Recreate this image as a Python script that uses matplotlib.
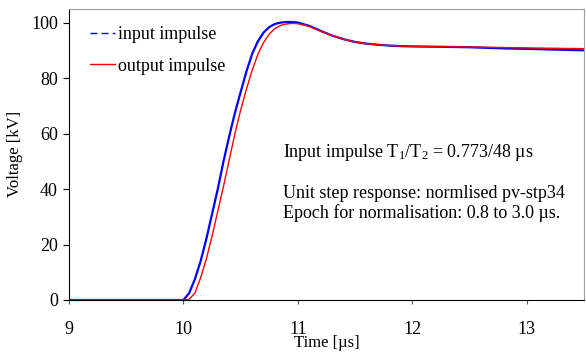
import matplotlib
matplotlib.use("Agg")
import matplotlib.pyplot as plt
from matplotlib.lines import Line2D

plt.rcParams['font.family'] = ['Liberation Serif', 'DejaVu Serif']
plt.rcParams['mathtext.fontset'] = 'custom'
plt.rcParams['mathtext.rm'] = 'Liberation Serif'
plt.rcParams['mathtext.it'] = 'Liberation Serif:italic'

# time axis in microseconds
t = [9.0, 10.0, 10.05, 10.1, 10.15, 10.2, 10.25, 10.3, 10.35, 10.4, 10.45,
     10.5, 10.55, 10.6, 10.65, 10.7, 10.75, 10.8, 10.85, 10.9, 10.95, 11.0,
     11.1, 11.2, 11.3, 11.4, 11.5, 11.6, 11.7, 11.8, 11.9, 12.0, 12.2, 12.5,
     12.8, 13.1, 13.5]

# voltages in kV
v_in = [0, 0, 2.5, 7.5, 14, 22, 31, 40, 50, 59, 67.5,
        75, 82.3, 88.7, 93.2, 96.4, 98.4, 99.5, 100, 100.2, 100.2, 100,
        98.8, 97, 95.3, 94, 93, 92.4, 92, 91.7, 91.5, 91.4, 91.3, 91.1,
        90.7, 90.4, 90.0]
v_out = [0, 0, 0.3, 2.5, 8, 14.8, 23, 32, 41, 50.5, 60,
         68.5, 76, 82.8, 88.5, 92.8, 95.9, 97.9, 99, 99.5, 99.7, 99.6,
         98.6, 96.9, 95.3, 94, 93, 92.4, 92, 91.7, 91.5, 91.4, 91.3, 91.2,
         91.0, 90.8, 90.6]

fig = plt.figure(figsize=(5.86, 3.52), dpi=100)
ax = fig.add_axes((69 / 586, 52 / 352, 515 / 586, 291.3 / 352))

ax.plot(t, v_in, color='blue', lw=1.6)
ax.plot(t, v_out, color='red', lw=1.0)

ax.set_xlim(9, 13.5)
ax.set_ylim(0, 105)
ax.set_xticks([9, 10, 11, 12, 13])
ax.set_yticks([0, 20, 40, 60, 80, 100])

for side in ('top', 'right'):
    ax.spines[side].set_color('#a0a0a0')
ax.tick_params(axis='x', direction='out', length=3, pad=12, labelsize=13,
               color='#555555')
ax.tick_params(axis='y', direction='out', length=4, pad=4, labelsize=13)

ax.set_xlabel('Time [µs]', fontsize=12, labelpad=-2)
ax.set_ylabel('Voltage [kV]', fontsize=12, labelpad=6)

handles = [Line2D([], [], color='blue', lw=1.0, ls=(0, (5, 3))),
           Line2D([], [], color='red', lw=1.0)]
ax.legend(handles, ['input impulse', 'output impulse'], loc='upper left',
          frameon=False, fontsize=13, handlelength=1.4, handletextpad=0.15,
          labelspacing=0.8, borderpad=0, borderaxespad=0,
          bbox_to_anchor=(0.041, 0.94))

ax.text(0.4155, 0.505, 'Input impulse T$_1$/T$_2$ = 0.773/48 µs',
        transform=ax.transAxes, fontsize=13, va='center', ha='left')
ax.text(0.4155, 0.364, 'Unit step response: normlised pv-stp34',
        transform=ax.transAxes, fontsize=13, va='center', ha='left')
ax.text(0.4155, 0.299, 'Epoch for normalisation: 0.8 to 3.0 µs.',
        transform=ax.transAxes, fontsize=13, va='center', ha='left')

fig.savefig('out.png', dpi=100)
